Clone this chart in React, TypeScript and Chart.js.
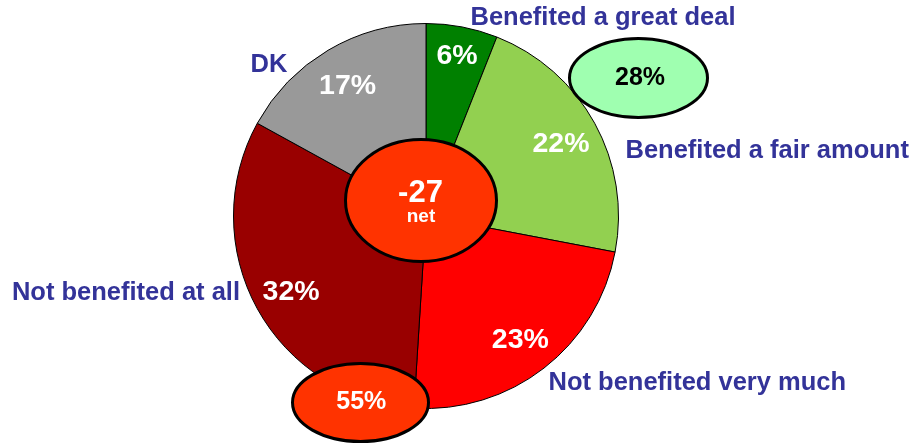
import React, { useEffect, useRef } from "react";
import { Chart, registerables } from "chart.js";

Chart.register(...registerables);

const categories = [
  "Benefited a great deal",
  "Benefited a fair amount",
  "Not benefited very much",
  "Not benefited at all",
  "DK",
];
const values = [6, 22, 23, 32, 17];
const sliceColors = ["#008000", "#92D050", "#FF0000", "#990000", "#999999"];
const benefitedIdx = [0, 1];
const notBenefitedIdx = [2, 3];

const FONT = '"Liberation Sans", Arial, Helvetica, sans-serif';
const LABEL_COLOR = "#333399";

// layout of outside category captions: [x, baselineY, align]
const captionPos: [number, number, CanvasTextAlign][] = [
  [470.5, 25, "left"],
  [625.5, 157.5, "left"],
  [548.5, 390, "left"],
  [240, 300, "right"],
  [250.5, 72, "left"],
];

function ellipse(ctx: CanvasRenderingContext2D, cx: number, cy: number, rx: number, ry: number, fill: string) {
  ctx.save();
  ctx.beginPath();
  ctx.ellipse(cx, cy, rx, ry, 0, 0, Math.PI * 2);
  ctx.fillStyle = fill;
  ctx.fill();
  ctx.lineWidth = 3;
  ctx.strokeStyle = "#000";
  ctx.stroke();
  ctx.restore();
}

const overlayPlugin = {
  id: "overlay",
  afterDatasetsDraw(chart: any) {
    const ctx: CanvasRenderingContext2D = chart.ctx;
    const meta = chart.getDatasetMeta(0);
    const data: number[] = chart.data.datasets[0].data;
    const total = data.reduce((a, b) => a + b, 0);
    const benefited = benefitedIdx.reduce((a, i) => a + data[i], 0);
    const notBenefited = notBenefitedIdx.reduce((a, i) => a + data[i], 0);
    const net = benefited - notBenefited;

    ctx.save();
    // slice percentages
    meta.data.forEach((arc: any, i: number) => {
      const { x, y, startAngle, endAngle, outerRadius } = arc.getProps(
        ["x", "y", "startAngle", "endAngle", "outerRadius"],
        true
      );
      const pct = Math.round((data[i] / total) * 100);
      const mid = (startAngle + endAngle) / 2;
      const frac = pct < 10 ? 0.86 : 0.8;
      const px = x + Math.cos(mid) * outerRadius * frac;
      const py = y + Math.sin(mid) * outerRadius * frac;
      const size = 28.5;
      ctx.font = `bold ${size}px ${FONT}`;
      ctx.fillStyle = "#FFFFFF";
      ctx.textAlign = "center";
      ctx.textBaseline = "alphabetic";
      ctx.fillText(`${pct}%`, px, py + size * 0.36);
    });

    // category captions
    ctx.font = `bold 25.5px ${FONT}`;
    ctx.fillStyle = LABEL_COLOR;
    ctx.textBaseline = "alphabetic";
    chart.data.labels.forEach((lab: string, i: number) => {
      const [cx, cy, al] = captionPos[i];
      ctx.textAlign = al;
      ctx.fillText(lab, cx, cy);
    });

    // center net ellipse
    ellipse(ctx, 421, 200.5, 75.5, 61, "#FF3300");
    ctx.fillStyle = "#FFFFFF";
    ctx.textAlign = "center";
    ctx.font = `bold 31px ${FONT}`;
    ctx.fillText(`${net}`, 420.5, 201.5);
    ctx.font = `bold 19px ${FONT}`;
    ctx.fillText("net", 421, 221.5);

    // benefited total
    ellipse(ctx, 638.5, 78, 69, 39.5, "#9FFFB0");
    ctx.fillStyle = "#000000";
    ctx.font = `bold 25px ${FONT}`;
    ctx.fillText(`${benefited}%`, 640, 85);

    // not benefited total
    ellipse(ctx, 360.5, 402.5, 68, 39, "#FF3300");
    ctx.fillStyle = "#FFFFFF";
    ctx.font = `bold 25px ${FONT}`;
    ctx.fillText(`${notBenefited}%`, 361.3, 409);
    ctx.restore();
  },
};

export default function App() {
  const ref = useRef<HTMLCanvasElement | null>(null);
  useEffect(() => {
    if (!ref.current) return;
    const chart = new Chart(ref.current, {
      type: "pie",
      data: {
        labels: categories,
        datasets: [
          {
            data: values,
            backgroundColor: sliceColors,
            borderColor: "#000000",
            borderWidth: 1,
          },
        ],
      },
      options: {
        animation: false,
        responsive: false,
        layout: { padding: { left: 233, right: 297, top: 23, bottom: 35 } },
        plugins: {
          legend: { display: false },
          tooltip: { enabled: false },
        },
      },
      plugins: [overlayPlugin],
    });
    return () => chart.destroy();
  }, []);
  return (
    <div style={{ position: "fixed", left: 0, top: 0, width: 916, height: 444, background: "#fff" }}>
      <canvas ref={ref} width={916} height={444} style={{ width: 916, height: 444, display: "block" }} />
    </div>
  );
}
